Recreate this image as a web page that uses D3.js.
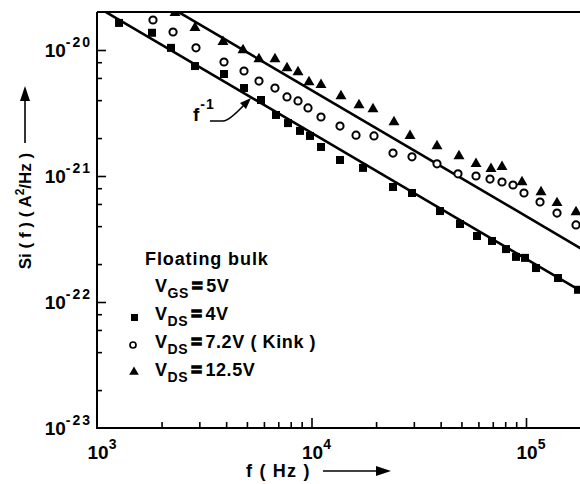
<!DOCTYPE html>
<html><head><meta charset="utf-8">
<script src="https://cdn.jsdelivr.net/npm/d3@7"></script>
<style>
html,body{margin:0;padding:0;background:#fff;}
text{font-family:"Liberation Sans",Arial,Helvetica,sans-serif;font-weight:bold;fill:#000;}
</style></head>
<body><svg id="c" width="580" height="484"></svg>
<script>
// ---- data ----
const fSquare = [1267,1805,2213,2863,3909,4846,5815,6831,7771,8839,9840,11074,13578,17384,23988,29410,39720,49230,59100,69420,80690,89820,98920,111350,141000,174800];
const sSquare = [1.64e-20,1.37e-20,1.04e-20,7.46e-21,6.45e-21,4.99e-21,4.01e-21,3.05e-21,2.63e-21,2.28e-21,2.08e-21,1.70e-21,1.34e-21,1.16e-21,8.18e-22,7.33e-22,5.27e-22,4.16e-22,3.34e-22,3.05e-22,2.63e-22,2.28e-22,2.24e-22,1.86e-22,1.55e-22,1.25e-22];
const fCircle = [1824,2262,2894,3909,4846,5691,6757,7687,8652,9632,11074,13578,16130,19560,23988,29410,38460,48190,58480,67950,77290,86980,97870,116250,139500,171050];
const sCircle = [1.73e-20,1.39e-20,1.04e-20,8.03e-21,6.81e-21,5.67e-21,4.99e-21,4.24e-21,3.94e-21,3.47e-21,2.94e-21,2.49e-21,2.11e-21,2.08e-21,1.52e-21,1.42e-21,1.25e-21,1.04e-21,1.0e-21,9.46e-22,8.96e-22,8.48e-22,7.33e-22,6.22e-22,5.08e-22,4.09e-22];
const fTriangle = [2310,2863,3867,4794,5691,6757,7687,8652,9735,11074,13722,16650,19350,24240,28790,38460,48710,58480,68680,77290,95800,117500,139500,171050];
const sTriangle = [1.97e-20,1.50e-20,1.16e-20,1.0e-20,8.48e-21,8.48e-21,7.2e-21,6.69e-21,5.57e-21,5.28e-21,4.31e-21,3.66e-21,3.40e-21,2.68e-21,2.08e-21,1.73e-21,1.44e-21,1.25e-21,1.14e-21,1.18e-21,8.96e-22,7.46e-22,6.11e-22,5.18e-22];
// 1/f reference lines: S = K / f
const lineK = [2.2e-17, 4.8e-17];
const lineF = [1e3, 3e5];
const xMajor = [1e3,1e4,1e5];
const xMajorExp = ["3","4","5"];
const yMajor = [1e-20,1e-21,1e-22,1e-23];
const yMajorExp = ["-20","-21","-22","-23"];
const legendTitle = "Floating bulk";
const legendVgs = "5V";
const legendVds = ["4V","7.2V ( Kink )","12.5V"];

// ---- layout ----
const svg = d3.select("#c");
const L = 97, R = 580, T = 12, B = 428;
const x = d3.scaleLog().domain([1e3,1e5]).range([L,526]);
const y = d3.scaleLog().domain([1e-23,1e-20]).range([B,50]);

svg.append("defs").append("clipPath").attr("id","clip")
  .append("rect").attr("x",L).attr("y",T).attr("width",R-L+5).attr("height",B-T);

const xMinor = [];
[1e3,1e4,1e5].forEach(d=>{for(let k=2;k<=9;k++){const v=d*k; if(x(v)<R) xMinor.push(v);}});
const yMinor = [];
[1e-23,1e-22,1e-21].forEach(d=>{[2,4,6,8].forEach(k=>yMinor.push(d*k));});

const styleTicks = g=>{g.select(".domain").remove();g.selectAll("line").attr("stroke","#000").attr("stroke-width",1.6);};
const gx = svg.append("g").attr("transform",`translate(0,${B})`);
gx.append("g").call(d3.axisBottom(x).tickValues(xMinor).tickSize(-6).tickFormat("")).call(styleTicks);
gx.append("g").call(d3.axisBottom(x).tickValues(xMajor.slice(1)).tickSize(-10).tickFormat("")).call(styleTicks);
const gy = svg.append("g").attr("transform",`translate(${L},0)`);
gy.append("g").call(d3.axisLeft(y).tickValues(yMinor).tickSize(-5).tickFormat("")).call(styleTicks);
gy.append("g").call(d3.axisLeft(y).tickValues(yMajor.slice(0,3)).tickSize(-9).tickFormat("")).call(styleTicks);

svg.append("line").attr("x1",L).attr("x2",R).attr("y1",B).attr("y2",B).attr("stroke","#000").attr("stroke-width",2);
svg.append("line").attr("x1",L).attr("x2",L).attr("y1",T).attr("y2",B+1).attr("stroke","#000").attr("stroke-width",2);
svg.append("line").attr("x1",L).attr("x2",R).attr("y1",T).attr("y2",T).attr("stroke","#000").attr("stroke-width",2);

// tick labels
xMajor.forEach((v,i)=>{
  const t = svg.append("text").attr("x",x(v)+5).attr("y",B+31).attr("text-anchor","middle").style("font-size","19px");
  t.append("tspan").text("10");
  t.append("tspan").attr("dy",-10).style("font-size","14px").text(xMajorExp[i]);
});
yMajor.forEach((v,i)=>{
  const t = svg.append("text").attr("x",92).attr("y",y(v)+7).attr("text-anchor","end").style("font-size","19px");
  t.append("tspan").text("10");
  t.append("tspan").attr("dy",-10).style("font-size","14px").style("letter-spacing","2px").text(yMajorExp[i]);
});

// axis titles
svg.append("text").attr("x",246).attr("y",477).style("font-size","18px").style("letter-spacing","1.2px").text("f ( Hz )");
svg.append("line").attr("x1",323).attr("x2",378).attr("y1",471).attr("y2",471).attr("stroke","#000").attr("stroke-width",1.6);
svg.append("path").attr("d","M391,471 L376,466 L376,476 Z").attr("fill","#000");

const yt = svg.append("text").attr("transform","translate(31,211) rotate(-90)").attr("text-anchor","middle").style("font-size","17px");
yt.append("tspan").text("Si ( f ) ( A");
yt.append("tspan").attr("dy",-7).style("font-size","12px").text("2");
yt.append("tspan").attr("dy",7).text("/Hz )");
svg.append("line").attr("x1",25).attr("x2",25).attr("y1",143).attr("y2",100).attr("stroke","#000").attr("stroke-width",1.6);
svg.append("path").attr("d","M25,86 L20,101 L30,101 Z").attr("fill","#000");

// plot content
const plot = svg.append("g").attr("clip-path","url(#clip)");
const lineGen = d3.line().x(d=>x(d[0])).y(d=>y(d[1]));
lineK.forEach(K=>{
  plot.append("path").datum(lineF.map(f=>[f,K/f])).attr("d",lineGen)
    .attr("fill","none").attr("stroke","#000").attr("stroke-width",2.6);
});
const sq = fSquare.map((f,i)=>[f,sSquare[i]]);
const ci = fCircle.map((f,i)=>[f,sCircle[i]]);
const tr = fTriangle.map((f,i)=>[f,sTriangle[i]]);
plot.selectAll(".sq").data(sq).enter().append("rect")
  .attr("x",d=>x(d[0])-4).attr("y",d=>y(d[1])-4).attr("width",8).attr("height",8).attr("fill","#000");
plot.selectAll(".ci").data(ci).enter().append("circle")
  .attr("cx",d=>x(d[0])).attr("cy",d=>y(d[1])).attr("r",3.6)
  .attr("fill","#fff").attr("stroke","#000").attr("stroke-width",2);
const triSym = d3.symbol().type(d3.symbolTriangle).size(52);
plot.selectAll(".tr").data(tr).enter().append("path")
  .attr("transform",d=>`translate(${x(d[0])},${y(d[1])})`).attr("d",triSym).attr("fill","#000");

// f^-1 annotation
const ft = svg.append("text").attr("x",193).attr("y",121).style("font-size","19px");
ft.append("tspan").text("f");
ft.append("tspan").attr("dy",-12).attr("dx",1).style("font-size","14px").style("letter-spacing","1px").text("-1");
svg.append("path").attr("d","M210,121 L223,121 Q229,121 244,105").attr("fill","none").attr("stroke","#000").attr("stroke-width",1.6);
svg.append("path").attr("d","M251,98 L240,103 L246,109 Z").attr("fill","#000");

// legend
svg.append("text").attr("x",145).attr("y",265).style("font-size","18px").style("letter-spacing","0.9px").text(legendTitle);
function vLine(yb, sub, val){
  const t = svg.append("text").attr("x",155).attr("y",yb).style("font-size","18px").style("letter-spacing","0.6px");
  t.append("tspan").text("V");
  t.append("tspan").attr("dy",6).style("font-size","14px").text(sub);
  t.append("tspan").attr("dy",-6).attr("dx",3).style("stroke","#000").style("stroke-width","1.6px").text("=");
  t.append("tspan").attr("dx",3).text(val);
}
vLine(292,"GS",legendVgs);
vLine(320,"DS",legendVds[0]);
vLine(348,"DS",legendVds[1]);
vLine(376,"DS",legendVds[2]);
svg.append("rect").attr("x",131).attr("y",314).attr("width",7).attr("height",7).attr("fill","#000");
svg.append("circle").attr("cx",133).attr("cy",345).attr("r",3).attr("fill","#fff").attr("stroke","#000").attr("stroke-width",1.7);
svg.append("path").attr("transform","translate(134,372)").attr("d",d3.symbol().type(d3.symbolTriangle).size(40)).attr("fill","#000");
</script></body></html>
